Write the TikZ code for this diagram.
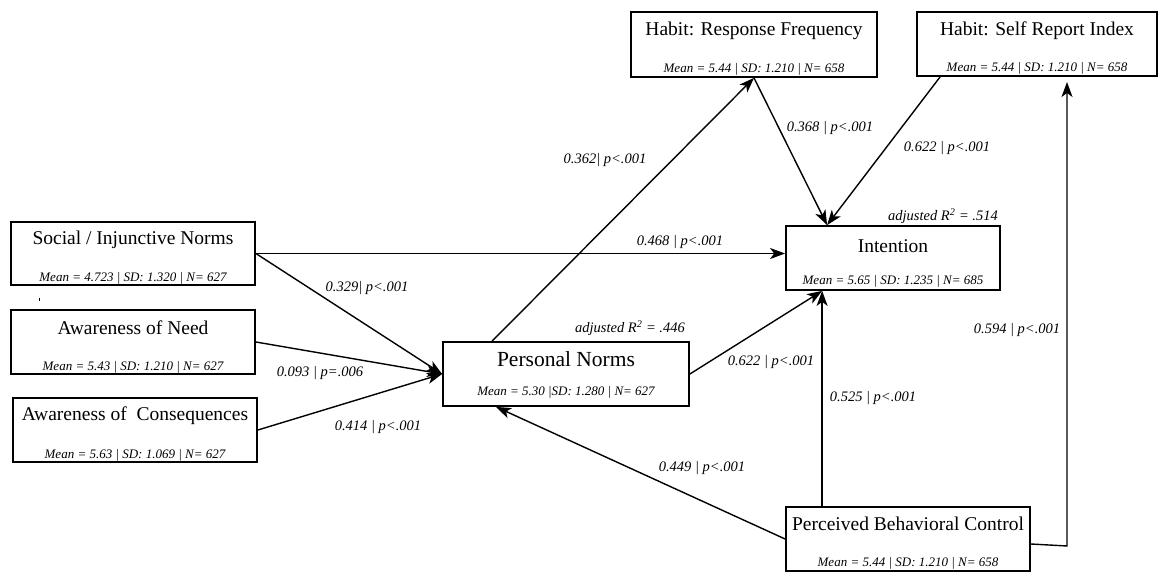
\documentclass[tikz,border=0pt]{standalone}
\usepackage{fontspec}
\setmainfont{Liberation Serif}
\usetikzlibrary{arrows.meta,calc}

\tikzset{
  box/.style={draw, line width=1.8pt, rectangle, inner sep=0pt},
  title/.style={font=\fontsize{19.5}{21}\selectfont, inner sep=0pt},
  bigtitle/.style={font=\fontsize{21.5}{23}\selectfont, inner sep=0pt},
  stats/.style={font=\fontsize{13}{14}\selectfont\itshape, inner sep=0pt},
  coef/.style={font=\fontsize{14.5}{16}\selectfont\itshape, inner sep=0pt},
  arr/.style={line width=1.4pt, -{Stealth[length=15pt,width=11pt,inset=4pt]}},
  link/.style={line width=1.4pt}
}

\begin{document}
\begin{tikzpicture}[x=1pt,y=-1pt]
\useasboundingbox (0,0) rectangle (1159,572);

% boxes
\node[box, minimum width=244pt, minimum height=63pt] (soc) at (133,253.5) {};
\node[box, minimum width=244pt, minimum height=64pt] (aon) at (133,342) {};
\node[box, minimum width=244pt, minimum height=64pt] (aoc) at (135,430) {};
\node[box, minimum width=246pt, minimum height=64pt] (pn)  at (566,374) {};
\node[box, minimum width=246pt, minimum height=65pt] (rf)  at (754,44.5) {};
\node[box, minimum width=240pt, minimum height=64pt] (sri) at (1037,44) {};
\node[box, minimum width=214pt, minimum height=64pt] (int) at (893,258) {};
\node[box, minimum width=244pt, minimum height=64pt] (pbc) at (908,539) {};

% box texts
\node[title] (socT) at ($(soc.north)+(0,19)$) {Social / Injunctive Norms};
\node[stats] (socS) at ($(soc.south)+(0,-8)$) {Mean = 4.723 | SD: 1.320 | N= 627};
\node[title] (aonT) at ($(aon.north)+(0,19)$) {Awareness of Need};
\node[stats] (aonS) at ($(aon.south)+(0,-8)$) {Mean = 5.43 | SD: 1.210 | N= 627};
\node[title] (aocT) at ($(aoc.north)+(0,19)$) {Awareness of\ \ Consequences};
\node[stats] (aocS) at ($(aoc.south)+(0,-8)$) {Mean = 5.63 | SD: 1.069 | N= 627};
\node[bigtitle] (pnT) at ($(pn.north)+(0,18)$) {Personal Norms};
\node[stats] (pnS) at ($(pn.south)+(0,-15)$) {Mean = 5.30 |SD: 1.280 | N= 627};
\node[title] (rfT) at ($(rf.north)+(0,20)$) {Habit: Response Frequency};
\node[stats] (rfS) at ($(rf.south)+(0,-9)$) {Mean = 5.44 | SD: 1.210 | N= 658};
\node[title] (sriT) at ($(sri.north)+(0,20)$) {Habit: Self Report Index};
\node[stats] (sriS) at ($(sri.south)+(0,-9)$) {Mean = 5.44 | SD: 1.210 | N= 658};
\node[title] (intT) at ($(int.north)+(0,21)$) {Intention};
\node[stats] (intS) at ($(int.south)+(0,-10)$) {Mean = 5.65 | SD: 1.235 | N= 685};
\node[title] (pbcT) at ($(pbc.north)+(0,18)$) {Perceived Behavioral Control};
\node[stats] (pbcS) at ($(pbc.south)+(0,-9)$) {Mean = 5.44 | SD: 1.210 | N= 658};

% explained variance
\node[coef] (r2pn)  at (630,328) {adjusted R\textsuperscript{2} = .446};
\node[coef] (r2int) at (943,216) {adjusted R\textsuperscript{2} = .514};

% anchor points on the boxes
\coordinate (intTop) at ($(int.north west)+(42,0)$);
\coordinate (intBot) at ($(int.south west)+(37,0)$);
\coordinate (pnTop)  at ($(pn.north west)+(50,0)$);
\coordinate (pnBot)  at ($(pn.south west)+(54,0)$);
\coordinate (sriOut) at ($(sri.south west)+(24,0)$);
\coordinate (pbcTop) at ($(pbc.north west)+(37,0)$);
\coordinate (pbcOut) at ($(pbc.east)+(0,5)$);
\coordinate (bend)   at (1067,546);
\coordinate (sriIn)  at (1067,82);

% paths
\draw[arr] (soc.east) -- (soc.east -| int.west);
\draw[arr] (soc.east) -- (pn.west);
\draw[arr] (aon.east) -- (pn.west);
\draw[arr] (aoc.east) -- (pn.west);
\draw[arr] (pnTop) -- (rf.south);
\draw[arr] (rf.south) -- (intTop);
\draw[arr] (sriOut) -- (intTop);
\draw[arr] (pn.east) -- (intBot);
\draw[arr] (pbcTop) -- (intBot);
\draw[arr] (pbc.west) -- (pnBot);
\draw[arr] (pbcOut) -- (bend) -- (sriIn);

% path coefficients
\node[coef] (c1)  at (367,288) {0.329| p<.001};
\node[coef] (c2)  at (320,373) {0.093 | p=.006};
\node[coef] (c3)  at (378,427) {0.414 | p<.001};
\node[coef] (c4)  at (605,160) {0.362| p<.001};
\node[coef] (c5)  at (680,242) {0.468 | p<.001};
\node[coef] (c6)  at (830,128) {0.368 | p<.001};
\node[coef] (c7)  at (947,148) {0.622 | p<.001};
\node[coef] (c8)  at (771,362) {0.622 | p<.001};
\node[coef] (c9)  at (873,398) {0.525 | p<.001};
\node[coef] (c10) at (1017,330) {0.594 | p<.001};
\node[coef] (c11) at (702,468) {0.449 | p<.001};

% small stray tick
\draw[line width=0.8pt] (39,298) -- (39,301);
\end{tikzpicture}
\end{document}
